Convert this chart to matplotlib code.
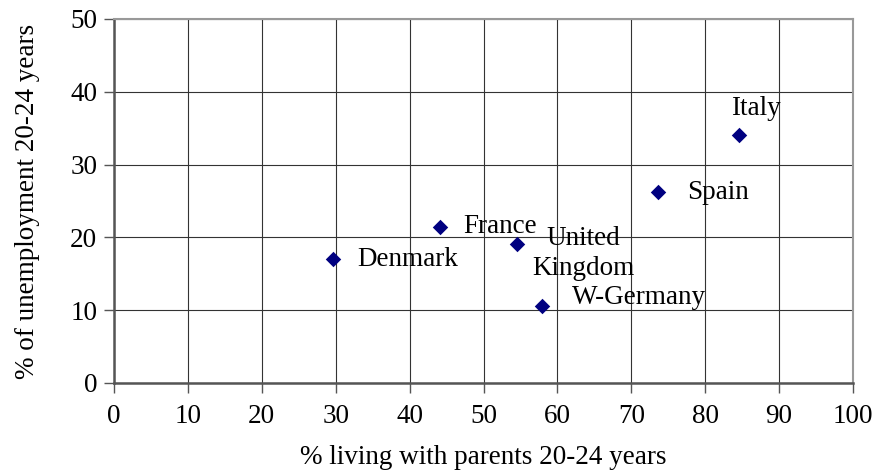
import matplotlib
matplotlib.use('Agg')
import matplotlib.pyplot as plt

# ── data ──────────────────────────────────────────────────────────────────────
countries = ['Denmark', 'France', 'United\nKingdom', 'W-Germany', 'Spain', 'Italy']
living_with_parents = [29.6, 44.1, 54.5, 57.9, 73.6, 84.6]
unemployment = [17.0, 21.4, 19.1, 10.6, 26.2, 34.1]

# label anchor positions (data units) for each country label
label_x = [32.9, 47.2, 63.5, 62.0, 77.5, 86.9]
label_y = [17.0, 21.5, 17.8, 11.7, 26.2, 37.7]
label_ha = ['left', 'left', 'center', 'left', 'left', 'center']

FS = 19.5

plt.rcParams.update({
    'font.family': ['Liberation Serif', 'DejaVu Serif'],
    'font.size': FS,
})

fig = plt.figure(figsize=(8.77, 4.71), dpi=100)
ax = fig.add_axes([114 / 877, 1 - 383 / 471, (853 - 114) / 877, (383 - 19) / 471])

ax.scatter(living_with_parents, unemployment, marker='D', s=62,
           color='#000080', zorder=3, linewidths=0)

for name, x, y, ha in zip(countries, label_x, label_y, label_ha):
    ax.text(x, y, name, ha=ha, va='center', fontsize=FS, color='black',
            linespacing=1.3, zorder=4)

ax.set_xlim(0, 100)
ax.set_ylim(0, 50)
ax.set_xticks(range(0, 101, 10))
ax.set_yticks(range(0, 51, 10))
ax.grid(True, color='#333333', linewidth=0.8, zorder=1)
ax.set_axisbelow(True)

for side in ['top', 'right']:
    ax.spines[side].set_color('#999999')
    ax.spines[side].set_linewidth(1.5)
for side in ['left', 'bottom']:
    ax.spines[side].set_color('#555555')
    ax.spines[side].set_linewidth(1.8)

ax.tick_params(axis='both', direction='out', length=7, width=1, color='#555555',
               labelsize=FS, pad=5)
ax.tick_params(axis='x', pad=8)

ax.set_xlabel('% living with parents 20-24 years', fontsize=FS, labelpad=12)
ax.set_ylabel('% of unemployment 20-24 years', fontsize=FS, labelpad=22)

fig.savefig('out.png', dpi=100, facecolor='white')
